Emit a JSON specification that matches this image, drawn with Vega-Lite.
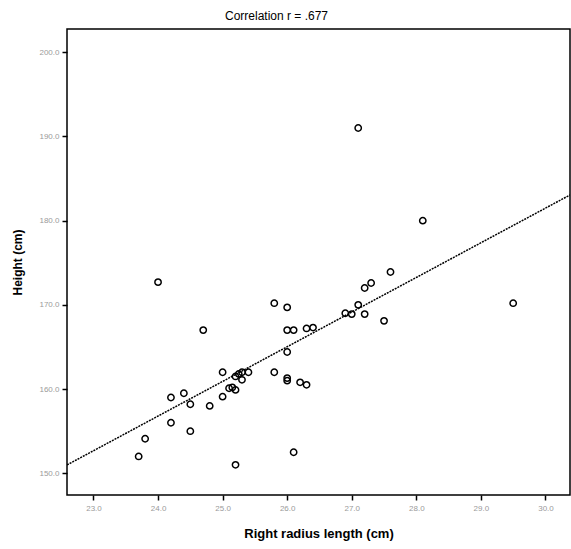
{
  "$schema": "https://vega.github.io/schema/vega-lite/v6.json",
  "width": 503,
  "height": 466,
  "autosize": {"type": "none"},
  "padding": {"left": 67, "top": 29, "right": 1, "bottom": 54},
  "background": "white",
  "title": {
    "text": "Correlation r = .677",
    "fontSize": 12,
    "fontWeight": "normal",
    "font": "Liberation Sans, sans-serif",
    "color": "black",
    "offset": 6,
    "dx": -42
  },
  "config": {
    "view": {"stroke": "black", "strokeWidth": 1.5},
    "axis": {
      "grid": false,
      "domain": false,
      "tickColor": "black",
      "tickWidth": 1.5,
      "tickSize": 5,
      "labelColor": "#9a9a9a",
      "labelFontSize": 8,
      "labelFont": "Liberation Sans, sans-serif",
      "titleFont": "Liberation Sans, sans-serif",
      "titleFontSize": 12,
      "titleFontWeight": "bold",
      "titleColor": "black"
    }
  },
  "layer": [
    {
      "data": {"values": [
        {"x": 24.0, "y": 172.7}, {"x": 25.8, "y": 170.2}, {"x": 26.0, "y": 169.7},
        {"x": 24.7, "y": 167.0}, {"x": 26.0, "y": 167.0}, {"x": 26.1, "y": 167.0},
        {"x": 26.3, "y": 167.2}, {"x": 26.4, "y": 167.3}, {"x": 26.0, "y": 164.4},
        {"x": 25.0, "y": 162.0}, {"x": 25.3, "y": 162.0}, {"x": 25.4, "y": 162.0},
        {"x": 25.25, "y": 161.8}, {"x": 25.2, "y": 161.5}, {"x": 25.3, "y": 161.1},
        {"x": 25.15, "y": 160.2}, {"x": 25.1, "y": 160.1}, {"x": 25.2, "y": 159.9},
        {"x": 25.8, "y": 162.0}, {"x": 26.0, "y": 161.3}, {"x": 26.0, "y": 161.0},
        {"x": 26.2, "y": 160.8}, {"x": 26.3, "y": 160.5}, {"x": 24.2, "y": 159.0},
        {"x": 24.4, "y": 159.5}, {"x": 24.5, "y": 158.2}, {"x": 24.8, "y": 158.0},
        {"x": 25.0, "y": 159.1}, {"x": 24.2, "y": 156.0}, {"x": 24.5, "y": 155.0},
        {"x": 23.8, "y": 154.1}, {"x": 23.7, "y": 152.0}, {"x": 26.1, "y": 152.5},
        {"x": 25.2, "y": 151.0}, {"x": 27.6, "y": 173.9}, {"x": 27.3, "y": 172.6},
        {"x": 27.2, "y": 172.0}, {"x": 27.1, "y": 170.0}, {"x": 26.9, "y": 169.0},
        {"x": 27.0, "y": 168.9}, {"x": 27.2, "y": 168.9}, {"x": 27.5, "y": 168.1},
        {"x": 29.5, "y": 170.2}, {"x": 28.1, "y": 180.0}, {"x": 27.1, "y": 191.0}
      ]},
      "mark": {"type": "point", "shape": "circle", "size": 40, "filled": false, "stroke": "black", "strokeWidth": 1.5, "opacity": 1},
      "encoding": {
        "x": {
          "field": "x", "type": "quantitative",
          "scale": {"domain": [22.59, 30.38], "nice": false, "zero": false},
          "axis": {"values": [23, 24, 25, 26, 27, 28, 29, 30], "format": ".1f", "title": "Right radius length (cm)", "titleFontSize": 13, "labelPadding": 4, "titlePadding": 15}
        },
        "y": {
          "field": "y", "type": "quantitative",
          "scale": {"domain": [147.42, 202.76], "nice": false, "zero": false},
          "axis": {"values": [150, 160, 170, 180, 190, 200], "format": ".1f", "title": "Height (cm)", "labelPadding": 3, "titlePadding": 14}
        }
      }
    },
    {
      "data": {"values": [{"x": 22.59, "y": 150.99}, {"x": 30.38, "y": 183.05}]},
      "mark": {"type": "line", "color": "black", "strokeWidth": 1.5, "strokeDash": [2, 1], "clip": true},
      "encoding": {
        "x": {"field": "x", "type": "quantitative"},
        "y": {"field": "y", "type": "quantitative"}
      }
    }
  ]
}
